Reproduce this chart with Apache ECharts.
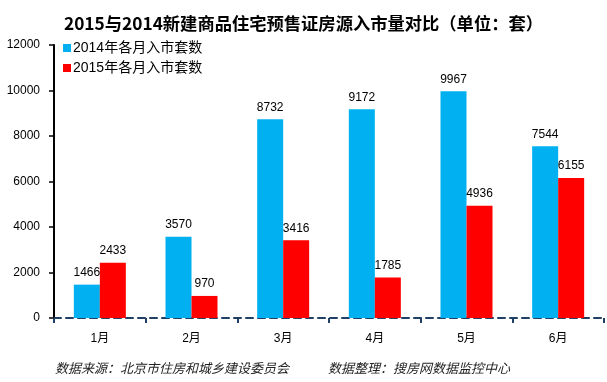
<!DOCTYPE html>
<html><head><meta charset="utf-8">
<script src="https://cdn.jsdelivr.net/npm/echarts@6/dist/echarts.min.js"></script>
<style>html,body{margin:0;padding:0;background:#fff}#c{width:607px;height:382px}</style>
</head><body><div id="c"></div>
<script>
var categories = ['1月','2月','3月','4月','5月','6月'];
var values2014 = [1466, 3570, 8732, 9172, 9967, 7544];
var values2015 = [2433, 970, 3416, 1785, 4936, 6155];
var seriesNames = ['2014年各月入市套数','2015年各月入市套数'];
var yTicks = [0, 2000, 4000, 6000, 8000, 10000, 12000];
var titleText = '2015与2014新建商品住宅预售证房源入市量对比（单位：套）';
var footerText = '数据来源：北京市住房和城乡建设委员会　　　数据整理：搜房网数据监控中心';

var chart = echarts.init(document.getElementById('c'), null, {renderer:'canvas'});
var font = '"Liberation Sans", Arial, "Noto Sans CJK SC", sans-serif';
chart.setOption({
  animation:false,
  backgroundColor:'#fff',
  title:{text:titleText,left:'center',top:10,
    textStyle:{fontFamily:'"Noto Sans CJK SC", sans-serif',fontWeight:'bold',fontSize:17.3,color:'#000'}},
  legend:{orient:'vertical',left:58,top:36,itemWidth:8,itemHeight:8,itemGap:6,
    icon:'rect',
    textStyle:{fontFamily:font,fontSize:14,color:'#000',padding:[0,0,0,-3]},
    data:seriesNames},
  grid:{left:54,right:3,top:45,bottom:64},
  xAxis:{type:'category',data:categories,
    axisLine:{lineStyle:{color:'#1f3f66',width:2,type:[7,5]}},
    axisTick:{show:true,length:5,lineStyle:{color:'#1f3f66',width:2}},
    axisLabel:{margin:15,fontFamily:font,fontSize:12,color:'#000'}},
  yAxis:{type:'value',min:yTicks[0],max:yTicks[yTicks.length-1],interval:2000,
    splitLine:{show:false},
    axisLine:{show:true,lineStyle:{color:'#000',width:2}},
    axisTick:{show:true,length:5,lineStyle:{color:'#000',width:1.5}},
    axisLabel:{margin:14,fontFamily:font,fontSize:12,color:'#000',formatter:function(v){return String(v);}}},
  series:[
    {name:seriesNames[0],type:'bar',data:values2014,barWidth:26,barGap:'0%',
      itemStyle:{color:'#00b0f0'},
      label:{show:true,position:'top',distance:6,fontFamily:font,fontSize:12,color:'#000'}},
    {name:seriesNames[1],type:'bar',data:values2015,barWidth:26,barGap:'0%',
      itemStyle:{color:'#ff0000'},
      label:{show:true,position:'top',distance:6,fontFamily:font,fontSize:12,color:'#000'}}
  ],
  graphic:[{type:'text',left:55,top:362,
    style:{text:footerText,fontFamily:'"Noto Sans CJK SC", sans-serif',fontStyle:'italic',fontSize:13,fill:'#222'}}]
});
</script></body></html>
